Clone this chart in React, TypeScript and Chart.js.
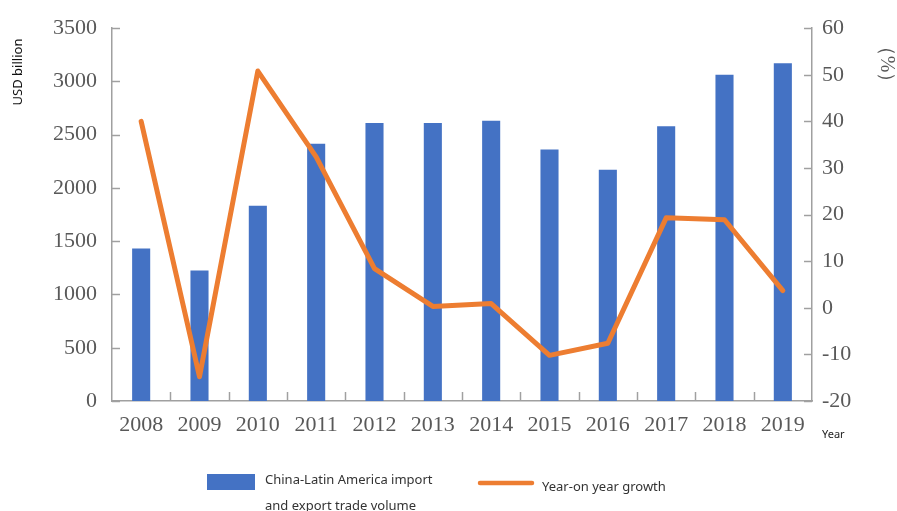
import React, { useEffect, useRef } from "react";
import { Chart, registerables } from "chart.js";

Chart.register(...registerables);

const years = ["2008", "2009", "2010", "2011", "2012", "2013", "2014", "2015", "2016", "2017", "2018", "2019"];
const tradeVolume = [1432, 1226, 1834, 2414, 2611, 2611, 2630, 2361, 2171, 2580, 3063, 3172];
const growth = [40, -14.8, 50.8, 32.4, 8.4, 0.3, 0.9, -10.2, -7.6, 19.3, 18.9, 3.7];
const barLabel = "China-Latin America import and export trade volume";
const lineLabel = "Year-on year growth";

const AXIS_COLOR = "#a0a0a0";
const TICK_COLOR = "#595959";
const BAR_COLOR = "#4472C4";
const LINE_COLOR = "#ED7D31";

const decorPlugin = {
  id: "decor",
  afterDatasetsDraw(chart: any) {
    const ctx = chart.ctx;
    const { left, right, bottom } = chart.chartArea;
    const y = chart.scales.y;
    const y1 = chart.scales.y1;
    ctx.save();
    ctx.strokeStyle = AXIS_COLOR;
    ctx.lineWidth = 1.5;
    y.ticks.forEach((_t: any, i: number) => {
      const py = Math.round(y.getPixelForTick(i)) + 0.5;
      ctx.beginPath();
      ctx.moveTo(left, py);
      ctx.lineTo(left + 8, py);
      ctx.stroke();
    });
    y1.ticks.forEach((_t: any, i: number) => {
      const py = Math.round(y1.getPixelForTick(i)) + 0.5;
      ctx.beginPath();
      ctx.moveTo(right - 8, py);
      ctx.lineTo(right, py);
      ctx.stroke();
    });
    const n = years.length;
    const w = (right - left) / n;
    for (let i = 1; i < n; i++) {
      const px = Math.round(left + w * i) + 0.5;
      ctx.beginPath();
      ctx.moveTo(px, bottom);
      ctx.lineTo(px, bottom - 9);
      ctx.stroke();
    }
    ctx.restore();
  },
  afterDraw(chart: any) {
    const ctx = chart.ctx;
    ctx.save();
    ctx.fillStyle = "#111";
    ctx.font = "13px 'Noto Sans', sans-serif";
    ctx.textAlign = "center";
    ctx.textBaseline = "middle";
    ctx.save();
    ctx.translate(18, 72);
    ctx.rotate(-Math.PI / 2);
    ctx.fillText("USD billion", 0, 0);
    ctx.restore();
    ctx.fillStyle = TICK_COLOR;
    ctx.font = "20px 'Liberation Serif', serif";
    ctx.save();
    ctx.translate(886, 64);
    ctx.rotate(Math.PI / 2);
    ctx.fillText("（%）", 0, 0);
    ctx.restore();
    ctx.fillStyle = "#222";
    ctx.font = "11px 'Noto Sans', sans-serif";
    ctx.textAlign = "left";
    ctx.fillText("Year", 822, 435);
    ctx.fillStyle = BAR_COLOR;
    ctx.fillRect(207, 474, 48, 16);
    ctx.fillStyle = "#333";
    ctx.font = "13px 'Noto Sans', sans-serif";
    ctx.textBaseline = "middle";
    ctx.fillText("China-Latin America import", 265, 480);
    ctx.fillText("and export trade volume", 265, 506);
    ctx.strokeStyle = LINE_COLOR;
    ctx.lineWidth = 4.5;
    ctx.lineCap = "round";
    ctx.beginPath();
    ctx.moveTo(480, 483);
    ctx.lineTo(532, 483);
    ctx.stroke();
    ctx.fillText(lineLabel, 542, 487);
    ctx.restore();
  },
};

export default function App() {
  const ref = useRef<HTMLCanvasElement>(null);
  useEffect(() => {
    if (!ref.current) return;
    const tickFont = { family: "'Liberation Serif', serif", size: 22 };
    const chart = new Chart(ref.current, {
      type: "bar",
      data: {
        labels: years,
        datasets: [
          {
            type: "line",
            label: lineLabel,
            data: growth,
            yAxisID: "y1",
            borderColor: LINE_COLOR,
            backgroundColor: LINE_COLOR,
            borderWidth: 5,
            pointRadius: 0,
            tension: 0,
            order: 0,
            borderJoinStyle: "round",
            borderCapStyle: "round",
          } as any,
          {
            type: "bar",
            label: barLabel,
            data: tradeVolume,
            yAxisID: "y",
            backgroundColor: BAR_COLOR,
            barPercentage: 0.31,
            categoryPercentage: 1,
            order: 1,
          } as any,
        ],
      },
      options: {
        responsive: false,
        animation: false,
        layout: { padding: { top: 27, left: 0, right: 0, bottom: 0 } },
        plugins: { legend: { display: false }, tooltip: { enabled: false } },
        scales: {
          x: {
            grid: { display: false, drawTicks: false },
            border: { color: AXIS_COLOR, width: 1.5 },
            ticks: { color: TICK_COLOR, font: tickFont, padding: 11, maxRotation: 0 },
            afterFit: (s: any) => {
              s.height = 110;
            },
          },
          y: {
            position: "left",
            min: 0,
            max: 3500,
            grid: { display: false, drawTicks: false },
            border: { color: AXIS_COLOR, width: 1.5 },
            ticks: {
              stepSize: 500,
              color: TICK_COLOR,
              font: tickFont,
              padding: 15,
              callback: (v: any) => String(v),
            },
            afterFit: (s: any) => {
              s.width = 112;
            },
          },
          y1: {
            position: "right",
            min: -20,
            max: 60,
            grid: { display: false, drawTicks: false },
            border: { color: AXIS_COLOR, width: 1.5 },
            ticks: {
              stepSize: 10,
              color: TICK_COLOR,
              font: tickFont,
              padding: 10,
              callback: (v: any) => String(v),
            },
            afterFit: (s: any) => {
              s.width = 85;
            },
          },
        },
      },
      plugins: [decorPlugin],
    });
    return () => chart.destroy();
  }, []);
  return (
    <div style={{ position: "fixed", left: 0, top: 0, width: 897, height: 511, background: "#fff" }}>
      <canvas ref={ref} width={897} height={511} style={{ width: 897, height: 511, display: "block" }} />
    </div>
  );
}
